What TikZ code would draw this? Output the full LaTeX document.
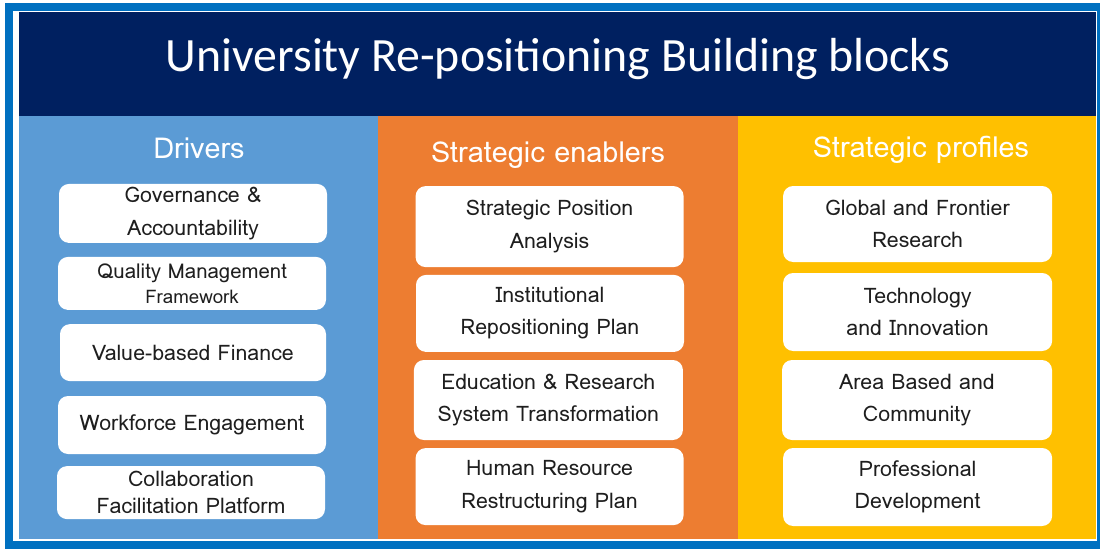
\documentclass[tikz,border=0pt]{standalone}
\usepackage{fontspec}
\setmainfont{Loma}
\newfontfamily\titlefont{Carlito}
\definecolor{framblue}{HTML}{0070C0}
\definecolor{navy}{HTML}{002060}
\definecolor{colblue}{HTML}{5B9BD5}
\definecolor{colorange}{HTML}{ED7D31}
\definecolor{colyellow}{HTML}{FFC000}
\definecolor{boxtext}{HTML}{1E1E1E}

\begin{document}
\begin{tikzpicture}[
    blockbox/.style={fill=white,rounded corners=0.25cm,minimum width=6.7cm,
      inner sep=0pt,align=center,text=boxtext,font=\fontsize{15.2}{23}\selectfont},
    colhead/.style={anchor=base,text=white,font=\fontsize{20.5}{24}\selectfont}
  ]
        \useasboundingbox (0,0) rectangle (27.5,13.725) ;
        % frame and background
        \fill[framblue] (0.125,0) rectangle (27.5,13.65) ;
        \fill[white] (0.325,0.2) rectangle (27.425,13.45) ;
        \fill[navy] (0.475,10.825) rectangle (27.4,13.425) ;
        \fill[colblue] (0.475,0.25) rectangle (9.45,10.825) ;
        \fill[colorange] (9.45,0.25) rectangle (18.45,10.825) ;
        \fill[colyellow] (18.45,0.25) rectangle (27.4,10.825) ;
        \node[anchor=base,text=white,font=\titlefont\fontsize{34}{40}\selectfont]
          (title) at (13.95,11.95) {University Re-positioning Building blocks} ;
        % column heads
        \node[colhead] (drivers) at (4.975,9.775) {Drivers} ;
        \node[colhead] (enablers) at (13.7,9.675) {Strategic enablers} ;
        \node[colhead] (profiles) at (23.025,9.8) {Strategic profiles} ;
        % drivers
        \node[blockbox,minimum height=1.475cm] (governance) at (4.825,8.39)
          {Governance \&\\Accountability} ;
        \node[blockbox,minimum height=1.325cm,font=\fontsize{14.5}{17.8}\selectfont]
          (quality) at (4.8,6.64)
          {Quality Management\\{\fontsize{13.3}{17.8}\selectfont Framework}} ;
        \node[blockbox,minimum height=1.425cm,minimum width=6.65cm] (finance)
          at (4.825,4.91) {Value-based Finance} ;
        \node[blockbox,minimum height=1.45cm] (workforce) at (4.8,3.1)
          {Workforce Engagement} ;
        \node[blockbox,minimum height=1.325cm,font=\fontsize{15.2}{19.2}\selectfont]
          (platform) at (4.775,1.41) {Collaboration\\Facilitation Platform} ;
        % strategic enablers
        \node[blockbox,minimum height=2.025cm] (position) at (13.74,8.06)
          {Strategic Position\\Analysis} ;
        \node[blockbox,minimum height=1.925cm] (repositioning) at (13.75,5.89)
          {Institutional\\Repositioning Plan} ;
        \node[blockbox,minimum height=2cm,minimum width=6.725cm] (transformation)
          at (13.71,3.725) {Education \& Research\\System Transformation} ;
        \node[blockbox,minimum height=1.925cm] (restructuring) at (13.74,1.56)
          {Human Resource\\Restructuring Plan} ;
        % strategic profiles
        \node[blockbox,minimum height=1.9cm,minimum width=6.725cm] (frontier)
          at (22.94,8.125) {Global and Frontier\\Research} ;
        \node[blockbox,minimum height=1.95cm,minimum width=6.725cm] (innovation)
          at (22.94,5.925) {Technology\\and Innovation} ;
        \node[blockbox,minimum height=2cm,minimum width=6.75cm] (community)
          at (22.925,3.725) {Area Based and\\Community} ;
        \node[blockbox,minimum height=1.95cm,minimum width=6.725cm] (professional)
          at (22.94,1.55) {Professional\\Development} ;
      \end{tikzpicture}
\end{document}
